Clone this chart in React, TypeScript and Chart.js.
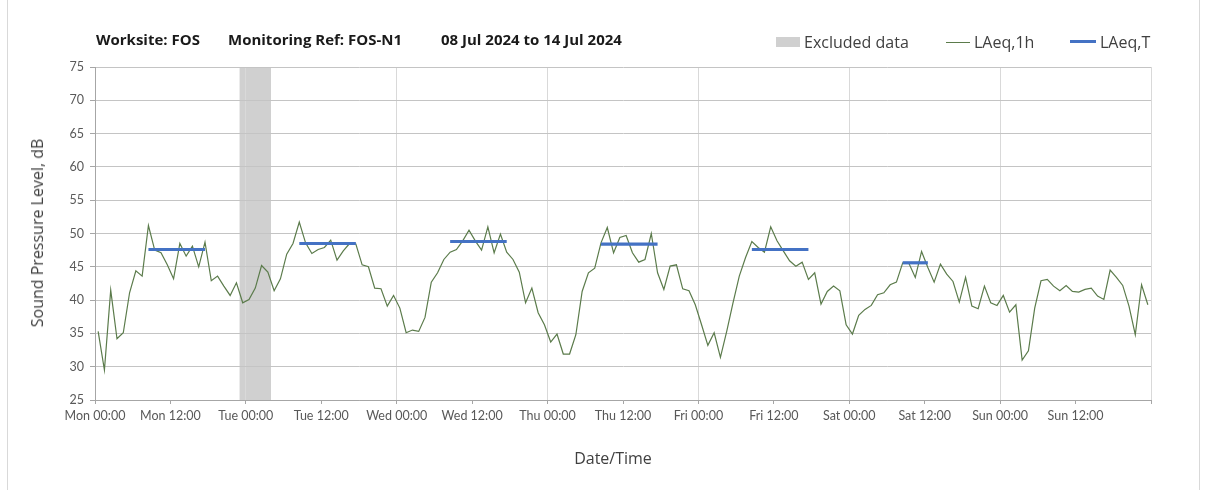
import React, { useEffect, useRef, useState } from "react";
import { Chart, registerables } from "chart.js";

Chart.register(...registerables);

if (typeof document !== "undefined") {
  document.body.style.margin = "0";
}

// Hourly LAeq,1h values, Mon 08 Jul 2024 00:00 -> Sun 14 Jul 2024 23:00
const laeq1h: number[] = [
  // Mon
  35.3, 29.5, 41.5, 34.2, 35.1, 41.1, 44.4, 43.6, 51.2, 47.5, 47.1, 45.3,
  43.2, 48.5, 46.6, 48.1, 45.0, 48.7, 42.9, 43.6, 42.1, 40.7, 42.6, 39.6,
  // Tue
  40.1, 41.8, 45.2, 44.2, 41.4, 43.2, 46.9, 48.5, 51.7, 48.6, 47.0, 47.6,
  47.9, 49.0, 46.0, 47.4, 48.5, 48.4, 45.3, 45.0, 41.8, 41.7, 39.1, 40.7,
  // Wed
  38.8, 35.1, 35.5, 35.3, 37.4, 42.7, 44.1, 46.1, 47.2, 47.6, 48.9, 50.5,
  48.9, 47.5, 51.0, 47.1, 49.9, 47.2, 46.1, 44.2, 39.6, 41.8, 38.1, 36.3,
  // Thu
  33.7, 34.9, 31.9, 31.9, 34.8, 41.3, 44.1, 44.8, 48.6, 50.9, 47.1, 49.4,
  49.7, 47.1, 45.7, 46.1, 50.0, 44.1, 41.6, 45.1, 45.3, 41.7, 41.4, 39.3,
  // Fri
  36.3, 33.2, 35.1, 31.4, 35.3, 39.6, 43.6, 46.4, 48.8, 47.9, 47.2, 51.0,
  48.9, 47.4, 45.9, 45.1, 45.7, 43.1, 44.1, 39.4, 41.3, 42.1, 41.4, 36.3,
  // Sat
  34.9, 37.7, 38.6, 39.2, 40.8, 41.1, 42.3, 42.7, 45.6, 45.5, 43.4, 47.3,
  44.9, 42.7, 45.4, 43.9, 42.8, 39.7, 43.4, 39.1, 38.7, 42.1, 39.6, 39.2,
  // Sun
  40.7, 38.2, 39.3, 31.0, 32.4, 38.8, 42.9, 43.1, 42.1, 41.4, 42.2, 41.3,
  41.2, 41.6, 41.8, 40.6, 40.1, 44.5, 43.4, 42.2, 39.1, 34.8, 42.3, 39.3,
];

// Daytime LAeq,T periods (hours from Mon 00:00)
const periodStart: number[] = [8, 32, 56, 80, 104, 128];
const periodEnd: number[] = [18, 42, 66, 90, 114, 133];
const laeqT: number[] = [47.6, 48.5, 48.8, 48.4, 47.6, 45.6];

// Excluded data windows (hours from Mon 00:00)
const excludedStart: number[] = [23];
const excludedEnd: number[] = [28];

const xTickLabels: string[] = [
  "Mon 00:00", "Mon 12:00", "Tue 00:00", "Tue 12:00", "Wed 00:00", "Wed 12:00",
  "Thu 00:00", "Thu 12:00", "Fri 00:00", "Fri 12:00", "Sat 00:00", "Sat 12:00",
  "Sun 00:00", "Sun 12:00",
];

const titleParts: string[] = ["Worksite: FOS", "Monitoring Ref: FOS-N1", "08 Jul 2024 to 14 Jul 2024"];

const FONT = "Lato, 'Open Sans', sans-serif";
const FONT2 = "'Open Sans', Lato, sans-serif";

export default function App() {
  const ref = useRef<HTMLCanvasElement | null>(null);
  const [err, setErr] = useState<string>("");

  useEffect(() => {
    if (!ref.current) return;
    let chart: any = null;
    try {
      const shadePlugin = {
        id: "excludedShade",
        beforeDraw(ch: any) {
          const { ctx, chartArea, scales } = ch;
          if (!chartArea || !scales.x) return;
          ctx.save();
          ctx.fillStyle = "#d0d0d0";
          for (let i = 0; i < excludedStart.length; i++) {
            const x0 = scales.x.getPixelForValue(excludedStart[i]);
            const x1 = scales.x.getPixelForValue(excludedEnd[i]);
            ctx.fillRect(x0, chartArea.top, x1 - x0, chartArea.bottom - chartArea.top);
          }
          ctx.restore();
        },
      };

      const lineData = laeq1h.map((v, i) => ({ x: i + 0.5, y: v }));
      const tDatasets = laeqT.map((v, i) => ({
        label: "LAeq,T",
        data: [
          { x: periodStart[i] + 0.5, y: v },
          { x: periodEnd[i] - 0.5, y: v },
        ],
        borderColor: "#4472c4",
        borderWidth: 3.2,
        pointRadius: 0,
      }));

      chart = new Chart(ref.current, {
        type: "line",
        data: {
          datasets: [
            ...tDatasets,
            {
              label: "LAeq,1h",
              data: lineData,
              borderColor: "#5b7b4b",
              borderWidth: 1.2,
              pointRadius: 0,
              tension: 0,
            },
          ],
        },
        options: {
          animation: false,
          responsive: false,
          maintainAspectRatio: false,
          layout: { padding: { left: 55, right: 57, top: 67, bottom: 50 } },
          plugins: {
            legend: { display: false },
            title: { display: false },
            tooltip: { enabled: false },
          },
          scales: {
            x: {
              type: "linear",
              min: 0,
              max: 168,
              afterFit: (s: any) => {
                s.height = 40;
              },
              ticks: {
                stepSize: 12,
                autoSkip: false,
                maxRotation: 0,
                padding: 4,
                color: "#595959",
                font: { family: FONT, size: 12.5 },
                callback: (v: any) => {
                  const k = Math.round(Number(v) / 12);
                  return k < xTickLabels.length ? xTickLabels[k] : "";
                },
              },
              grid: {
                color: (c: any) => {
                  const t = c && c.tick ? c.tick.value : -1;
                  return t > 0 && t % 24 === 0 ? "#d9d9d9" : "rgba(0,0,0,0)";
                },
                tickColor: "#a6a6a6",
                tickLength: 4,
                lineWidth: 1,
              },
              border: { color: "#a6a6a6" },
            },
            y: {
              type: "linear",
              min: 25,
              max: 75,
              afterFit: (s: any) => {
                s.width = 40;
              },
              ticks: {
                stepSize: 5,
                padding: 6,
                color: "#595959",
                font: { family: FONT, size: 12.5 },
              },
              grid: {
                color: "#c4c4c4",
                tickColor: "#a6a6a6",
                tickLength: 5,
              },
              border: { color: "#a6a6a6" },
            },
          },
        },
        plugins: [shadePlugin],
      } as any);
    } catch (e: any) {
      setErr(String(e && e.stack ? e.stack : e));
    }
    return () => {
      if (chart) chart.destroy();
    };
  }, []);

  const legendText: React.CSSProperties = {
    position: "absolute",
    top: 32,
    fontFamily: FONT2,
    fontSize: 16,
    color: "#404040",
    lineHeight: "20px",
    whiteSpace: "nowrap",
  };
  const titleText: React.CSSProperties = {
    position: "absolute",
    top: 29,
    fontFamily: FONT2,
    fontWeight: 700,
    fontSize: 15,
    color: "#1a1a1a",
    whiteSpace: "nowrap",
    lineHeight: "20px",
  };

  return (
    <div style={{ position: "relative", width: 1208, height: 490, overflow: "hidden", background: "#fff" }}>
      <div style={{ position: "absolute", left: 7, top: 0, width: 1, height: 490, background: "#d9d9d9" }} />
      <div style={{ position: "absolute", left: 1199, top: 0, width: 1, height: 490, background: "#d9d9d9" }} />
      <canvas ref={ref} width={1208} height={490} style={{ position: "absolute", left: 0, top: 0 }} />
      <div style={{ ...titleText, left: 96 }}>{titleParts[0]}</div>
      <div style={{ ...titleText, left: 228 }}>{titleParts[1]}</div>
      <div style={{ ...titleText, left: 441 }}>{titleParts[2]}</div>
      <div style={{ position: "absolute", left: 776, top: 37, width: 24, height: 10, background: "#d0d0d0" }} />
      <div style={{ ...legendText, left: 804 }}>Excluded data</div>
      <div style={{ position: "absolute", left: 946, top: 42, width: 24, height: 1, background: "#5b7b4b" }} />
      <div style={{ ...legendText, left: 974 }}>LAeq,1h</div>
      <div style={{ position: "absolute", left: 1070, top: 40, width: 26, height: 3, background: "#4472c4" }} />
      <div style={{ ...legendText, left: 1100 }}>LAeq,T</div>
      <div
        style={{
          position: "absolute",
          left: 37,
          top: 233,
          transform: "translate(-50%, -50%) rotate(-90deg)",
          fontFamily: FONT2,
          fontSize: 16,
          color: "#404040",
          whiteSpace: "nowrap",
        }}
      >
        Sound Pressure Level, dB
      </div>
      <div
        style={{
          position: "absolute",
          left: 613,
          top: 458,
          transform: "translate(-50%, -50%)",
          fontFamily: FONT2,
          fontSize: 16,
          color: "#404040",
          whiteSpace: "nowrap",
        }}
      >
        Date/Time
      </div>
      {err ? (
        <pre style={{ position: "absolute", left: 100, top: 100, color: "red", fontSize: 11 }}>{err}</pre>
      ) : null}
    </div>
  );
}
